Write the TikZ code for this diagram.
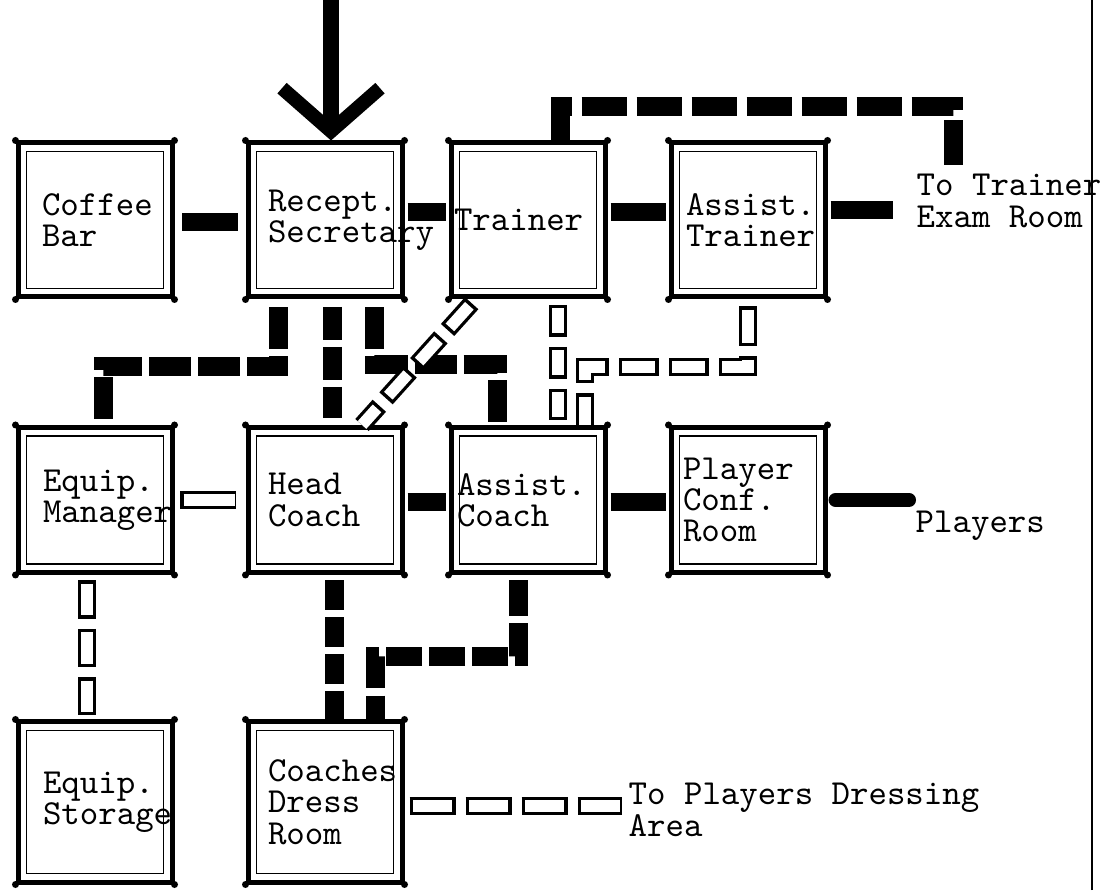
\documentclass[tikz,border=0pt]{standalone}
\usepackage{tikz}
\usetikzlibrary{arrows.meta}

\newcommand{\roomfont}{\fontsize{10pt}{8.9pt}\selectfont\ttfamily}

\begin{document}
\begin{tikzpicture}[
  room/.style={draw, line width=0.05cm, minimum width=1.54cm, minimum height=#1,
    inner sep=0pt, text width=1.14cm, align=left, font=\roomfont},
  room/.default=1.54cm,
  note/.style={inner sep=0.06cm, align=left, font=\roomfont},
  solidlink/.style={line width=0.18cm, shorten <=0.03cm, shorten >=0.03cm},
  dashlink/.style={line width=0.19cm, dash pattern=on #1 off 0.07cm},
  dashlink/.default=0.4cm,
  openlink/.style={line width=0.18cm, dash pattern=on #1 off 0.1cm,
    postaction={draw=white, line width=0.115cm, dash pattern=on #1-0.07cm off 0.17cm, dash phase=#1+0.065cm}},
  openlink/.default=0.4cm]
  \useasboundingbox (0,0) rectangle (11.04,8.9);

  % rooms, top row
  \node[room, text width=1.06cm] (coffee) at (0.95,6.70) {Coffee\\Bar};
  \node[room] (recept) at (3.25,6.70) {Recept.\\Secretary};
  \node[room, text width=1.48cm] (trainer) at (5.28,6.70) {Trainer};
  \node[room, text width=1.24cm] (atrainer) at (7.48,6.70) {Assist.\\Trainer};
  % middle row
  \node[room=1.45cm, text width=1.04cm] (equipmgr) at (0.95,3.90) {Equip.\\Manager};
  \node[room=1.45cm] (headcoach) at (3.25,3.90) {Head\\Coach};
  \node[room=1.45cm, text width=1.42cm] (acoach) at (5.28,3.90) {Assist.\\Coach};
  \node[room=1.45cm, text width=1.30cm] (playerconf) at (7.48,3.90) {Player\\Conf.\\Room};
  % bottom row
  \node[room=1.60cm, text width=1.04cm] (storage) at (0.95,0.88) {Equip.\\Storage};
  \node[room=1.60cm] (dress) at (3.25,0.88) {Coaches\\Dress\\Room};

  % inner frames and corner dots
  \foreach \r in {coffee,recept,trainer,atrainer,equipmgr,headcoach,acoach,playerconf,storage,dress}{
    \draw[line width=0.015cm] ([shift={(0.11,0.11)}]\r.south west) rectangle ([shift={(-0.11,-0.11)}]\r.north east);
    \foreach \c in {north west,north east,south west,south east}
      \fill (\r.\c) circle (0.035cm);
  }

  % outside destinations
  \node[note, anchor=west] (totrainer) at (9.10,6.89) {To Trainer\\Exam Room};
  \node[note, anchor=north west] (players) at (9.09,3.86) {Players};
  \node[note, anchor=west] (toplayers) at (6.22,0.80) {To Players Dressing\\Area};
  \coordinate (entry) at (3.31,8.9);
  \coordinate (examdoor) at (9.53,7.25);

  % entrance
  \draw[line width=0.16cm, -{Straight Barb[length=0.43cm, width=0.98cm, line width=0.14cm]}]
    (entry) -- ([xshift=0.06cm]recept.north);

  % direct links
  \draw[solidlink, shorten <=0.075cm, shorten >=0.075cm] ([yshift=-0.02cm]coffee.east) -- ([yshift=-0.02cm]coffee.east -| recept.west);
  \draw[solidlink] ([yshift=0.08cm]recept.east) -- ([yshift=0.08cm]recept.east -| trainer.west);
  \draw[solidlink] ([yshift=0.08cm]trainer.east) -- ([yshift=0.08cm]trainer.east -| atrainer.west);
  \draw[solidlink, shorten >=0.17cm] ([yshift=0.10cm]atrainer.east) -- ([yshift=0.10cm]atrainer.east -| totrainer.west);
  \draw[solidlink] ([yshift=-0.02cm]headcoach.east) -- ([yshift=-0.02cm]headcoach.east -| acoach.west);
  \draw[solidlink] ([yshift=-0.02cm]acoach.east) -- ([yshift=-0.02cm]acoach.east -| playerconf.west);
  \draw[line width=0.14cm, line cap=round, shorten <=0.08cm] (playerconf.east) -- (playerconf.east -| players.west);

  % heavy dashed links
  \draw[dashlink=0.33cm, shorten <=0.075cm, shorten >=0.07cm] ([xshift=0.07cm]recept.south) -- ([xshift=0.07cm]headcoach.north);
  \draw[dashlink=0.42cm, shorten <=0.08cm] ([xshift=-0.47cm]recept.south) -- ++(0,-0.675) -| ([xshift=0.08cm]equipmgr.north);
  \draw[dashlink=0.42cm, shorten <=0.08cm] ([xshift=0.49cm]recept.south) -- ++(0,-0.655) -| ([xshift=-0.31cm]acoach.north);
  \draw[dashlink=0.45cm, dash pattern=on 0.45cm off 0.1cm] ([xshift=0.32cm]trainer.north) -- ++(0,0.335) -| (examdoor);
  \draw[dashlink=0.30cm, shorten <=0.055cm] ([xshift=0.09cm]headcoach.south) -- ([xshift=0.09cm]dress.north);
  \draw[dashlink=0.36cm, shorten <=0.055cm] ([xshift=-0.10cm]acoach.south) -- ++(0,-0.815) -| ([xshift=0.50cm]dress.north);

  % open links
  \draw[openlink=0.58cm, shorten <=0.055cm, shorten >=0.095cm] (equipmgr.east) -- (equipmgr.east -| headcoach.west);
  \draw[openlink=0.383cm, shorten <=0.055cm, shorten >=0.045cm] ([xshift=-0.08cm]equipmgr.south) -- ([xshift=-0.08cm]storage.north);
  \draw[openlink=0.32cm, shorten <=0.055cm, shorten >=0.05cm] ([xshift=0.30cm]trainer.south) -- ([xshift=0.30cm]acoach.north);
  \draw[openlink=0.40cm, shorten <=0.07cm] (atrainer.south) -- ++(0,-0.675) -| ([xshift=0.57cm]acoach.north);
  \draw[openlink=0.36cm, shorten <=0.05cm] ([xshift=-0.53cm]trainer.south) -- ([xshift=0.37cm]headcoach.north);
  \draw[openlink=0.46cm, shorten <=0.05cm] ([yshift=-0.04cm]dress.east) -- ([yshift=-0.04cm]dress.east -| toplayers.west);

  % right border
  \draw[line width=0.025cm] (10.92,0) -- (10.92,8.9);
\end{tikzpicture}
\end{document}
